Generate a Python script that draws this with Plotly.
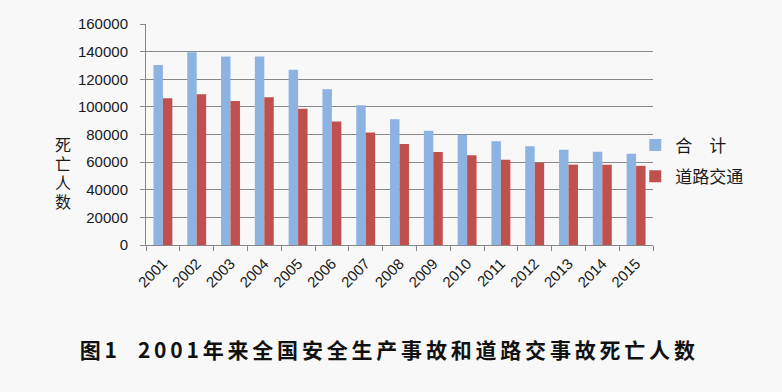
import plotly.graph_objects as go

years = ["2001", "2002", "2003", "2004", "2005", "2006", "2007", "2008",
         "2009", "2010", "2011", "2012", "2013", "2014", "2015"]
total = [130300, 139500, 136500, 136500, 126900, 112700, 101200, 91000,
         82800, 79800, 75200, 71500, 69000, 67600, 66000]
road = [106200, 109200, 104200, 107000, 98600, 89400, 81400, 73100,
        67300, 64900, 61800, 59600, 58200, 58100, 57300]
series_names = ["合\u3000计", "道路交通"]
y_ticks = [0, 20000, 40000, 60000, 80000, 100000, 120000, 140000, 160000]
y_title_chars = ["死", "亡", "人", "数"]
title_text = "图1  2001年来全国安全生产事故和道路交事故死亡人数"

bg = "#f8f8f8"
blue = "#8db3e2"
red = "#c0504d"
grid = "#888888"

fig = go.Figure()
fig.add_trace(go.Bar(x=years, y=total, name=series_names[0], marker_color=blue,
                     marker_line_width=0, legendgroup="a"))
fig.add_trace(go.Bar(x=years, y=road, name=series_names[1], marker_color=red,
                     marker_line_width=0, legendgroup="b"))

fig.update_layout(
    width=782, height=392,
    paper_bgcolor=bg, plot_bgcolor=bg,
    margin=dict(l=146, r=129, t=24, b=147),
    barmode="group", bargap=0.44, bargroupgap=0,
    font=dict(family="Liberation Sans, Noto Sans CJK SC", color="#1a1a1a"),
    legend=dict(x=0.965, xanchor="left", y=0.38, yanchor="middle",
                font=dict(size=17, family="Noto Sans CJK SC", color="#1a1a1a"),
                bgcolor="rgba(0,0,0,0)", traceorder="grouped", tracegroupgap=6,
                itemwidth=30),
    showlegend=True,
)
fig.update_xaxes(
    type="category", tickangle=-45, tickfont=dict(size=15),
    showline=True, linecolor=grid, linewidth=1,
    ticks="outside", tickson="boundaries", ticklen=5, tickcolor=grid,
    ticklabelstandoff=3,
    showgrid=False,
)
fig.update_yaxes(
    range=[0, 160000], tickvals=y_ticks, ticktext=[str(v) for v in y_ticks],
    tickfont=dict(size=15),
    showgrid=True, gridcolor=grid, gridwidth=1,
    showline=True, linecolor=grid, linewidth=1,
    ticks="outside", ticklen=5, tickcolor=grid,
    ticklabelstandoff=9,
    zeroline=False,
)
for i, ch in enumerate(y_title_chars):
    fig.add_annotation(
        text=ch, xref="paper", yref="paper",
        x=-0.164, y=(245 - (144 + 19 * i)) / 220.5,
        xanchor="center", yanchor="middle", showarrow=False,
        font=dict(size=16, family="Noto Sans CJK SC", color="#1a1a1a"),
    )
fig.add_annotation(
    text="<b>" + title_text + "</b>",
    xref="paper", yref="paper", x=0.48, y=-0.47, xanchor="center", yanchor="middle",
    showarrow=False,
    font=dict(size=21, family="Noto Sans CJK SC", color="#111111"),
)

post = """
document.body.style.margin='0';
document.body.style.background='#f8f8f8';
function spaceTitle(){
  document.querySelectorAll('text.annotation-text').forEach(function(t){
    if (t.textContent.indexOf('图1') === 0) { t.style.letterSpacing = '3.8px'; }
  });
}
spaceTitle();
setTimeout(spaceTitle, 0);
setTimeout(spaceTitle, 300);
"""
fig.write_html("out.html", post_script=post, config={"displayModeBar": False})
